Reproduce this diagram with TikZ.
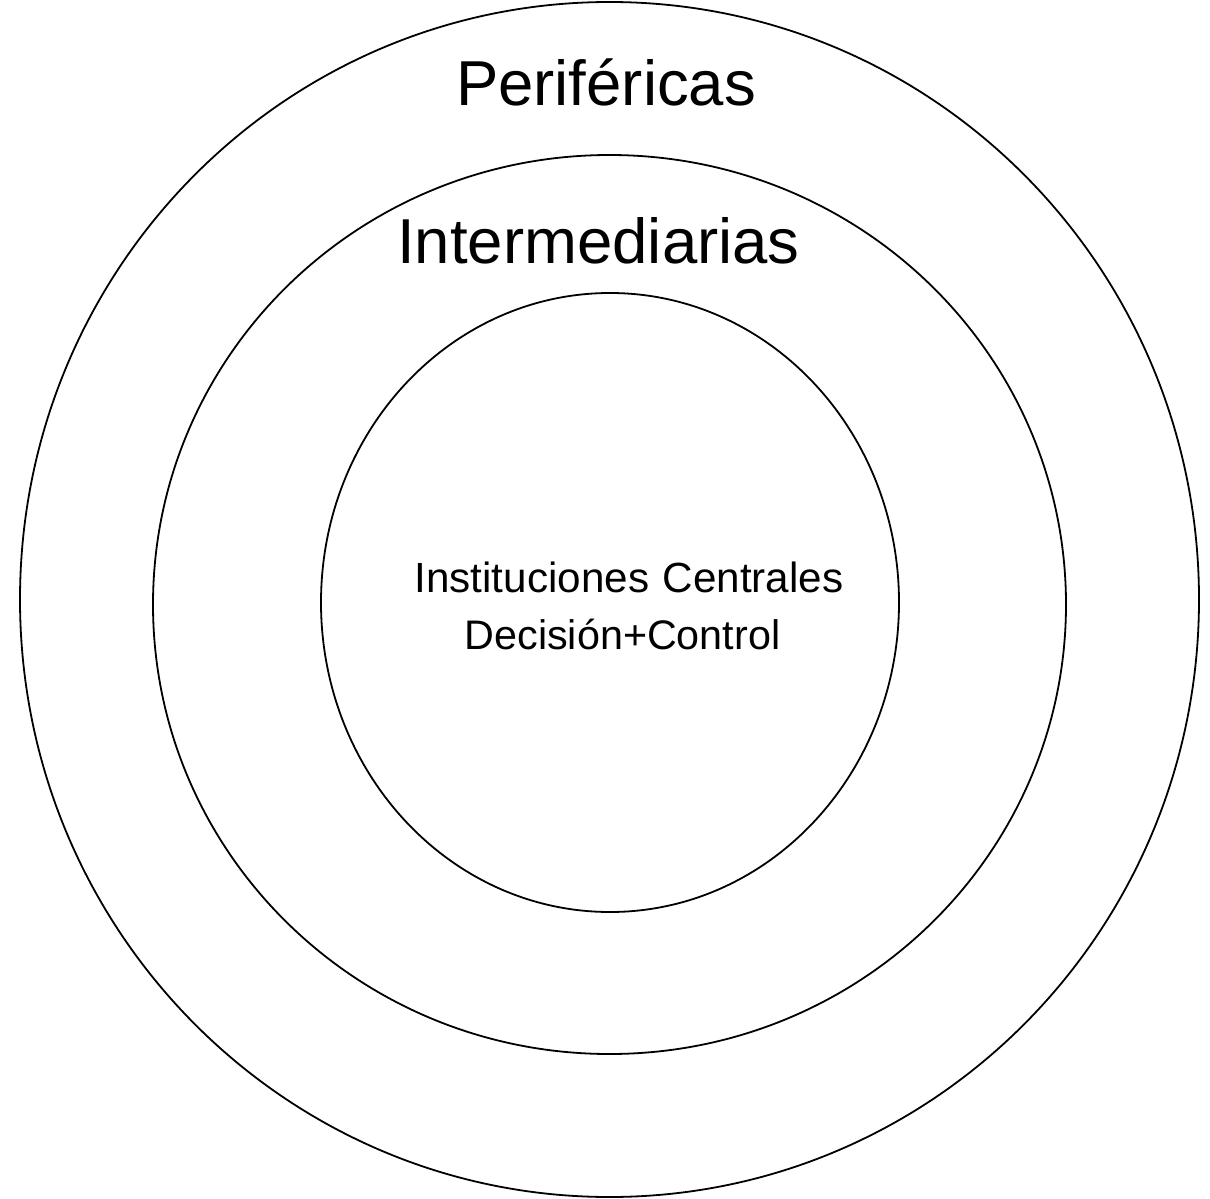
\documentclass[tikz,border=0pt]{standalone}
\usepackage{fontspec}
\setmainfont{Liberation Sans}
\usetikzlibrary{shapes.geometric}
\begin{document}
\begin{tikzpicture}[x=1pt,y=-1pt,
  ring/.style={draw, ellipse, line width=1.8pt, inner sep=0pt, outer sep=0pt},
  bigtxt/.style={font=\fontsize{63.5}{70}\selectfont, inner sep=0pt, anchor=base},
  smalltxt/.style={font=\fontsize{41.3}{50}\selectfont, inner sep=0pt, anchor=base}]
\useasboundingbox (0,0) rectangle (1210,1199);
\node[ring, minimum width=1179pt, minimum height=1195pt] (outer) at (609.5,599.5) {};
\node[ring, minimum width=913pt, minimum height=899pt] (middle) at (609.5,604.5) {};
\node[ring, minimum width=578pt, minimum height=619pt] (inner) at (610,602.5) {};
\node[bigtxt] (per) at (606,105) {Periféricas};
\node[bigtxt] (int) at (598.5,263) {Intermediarias};
\node[smalltxt, font=\fontsize{42.2}{50}\selectfont] (inst) at (629,592) {Instituciones\hspace{2pt} Centrales};
\node[smalltxt] (dec) at (622.5,649) {Decisión+Control};
\end{tikzpicture}
\end{document}
